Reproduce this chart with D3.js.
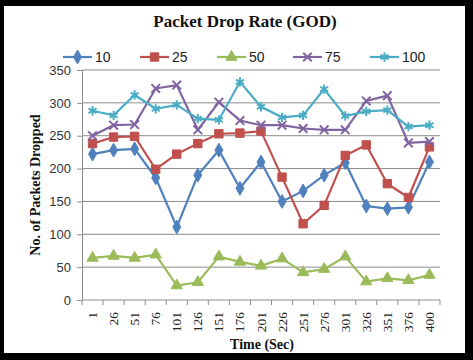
<!DOCTYPE html>
<html>
<head>
<meta charset="utf-8">
<script src="https://cdn.jsdelivr.net/npm/d3@7"></script>
<style>
  body { margin: 0; background: #000; }
  svg { display: block; }
</style>
</head>
<body>
<div id="chart"></div>
<script>
// chart data
const times = ["1", "26", "51", "76", "101", "126", "151", "176", "201", "226", "251", "276", "301", "326", "351", "376", "400"];
const seriesNames = ["10", "25", "50", "75", "100"];
const drop10 = [222, 228, 230, 186, 111, 190, 228, 170, 210, 150, 166, 190, 209, 143, 139, 141, 210];
const drop25 = [238, 248, 249, 199, 222, 238, 253, 254, 257, 187, 116, 144, 220, 236, 177, 156, 233];
const drop50 = [64, 67, 64, 69, 22, 27, 66, 58, 52, 63, 42, 47, 66, 28, 33, 30, 38];
const drop75 = [250, 266, 267, 322, 327, 259, 301, 273, 266, 266, 261, 259, 259, 303, 311, 239, 241];
const drop100 = [288, 281, 312, 291, 297, 276, 274, 332, 294, 278, 281, 321, 280, 287, 289, 264, 266];
const yTicks = [0, 50, 100, 150, 200, 250, 300, 350];

const colors = ["#4F81BD", "#C0504D", "#9BBB59", "#8064A2", "#4BACC6"];
const markers = ["diamond", "square", "triangle", "cross", "star"];
const allSeries = [drop10, drop25, drop50, drop75, drop100];

const width = 473, height = 360;
const plot = { left: 82, right: 440, top: 70, bottom: 300 };

const svg = d3.select("#chart").append("svg")
  .attr("width", width)
  .attr("height", height);

// black frame with white card
svg.append("rect").attr("width", width).attr("height", height).attr("fill", "#000");
svg.append("rect").attr("x", 4).attr("y", 6).attr("width", 461).attr("height", 347).attr("fill", "#fff");

const x = d3.scaleBand().domain(times).range([plot.left, plot.right]);
const y = d3.scaleLinear().domain([0, 350]).range([plot.bottom, plot.top]);

// gridlines
svg.append("g")
  .selectAll("line")
  .data(yTicks.filter(d => d > 0))
  .join("line")
    .attr("x1", plot.left).attr("x2", plot.right)
    .attr("y1", d => y(d)).attr("y2", d => y(d))
    .attr("stroke", "#8c8c8c").attr("stroke-width", 1);

// y axis
const yAxis = svg.append("g")
  .attr("transform", "translate(" + plot.left + ",0)")
  .call(d3.axisLeft(y).tickValues(yTicks).tickSize(5).tickPadding(6));
yAxis.select(".domain").attr("stroke", "#8c8c8c");
yAxis.selectAll(".tick line").attr("stroke", "#8c8c8c");
yAxis.selectAll("text")
  .attr("font-family", "Liberation Sans, Arial, sans-serif")
  .attr("font-size", 13)
  .attr("fill", "#333");

// x axis (ticks between categories)
const xAxis = svg.append("g")
  .attr("transform", "translate(0," + plot.bottom + ")");
xAxis.append("line")
  .attr("x1", plot.left).attr("x2", plot.right)
  .attr("stroke", "#8c8c8c");
const bounds = times.map(t => x(t)).concat([plot.right]);
xAxis.selectAll(".xtick")
  .data(bounds)
  .join("line")
    .attr("class", "xtick")
    .attr("x1", d => d).attr("x2", d => d)
    .attr("y1", 0).attr("y2", 5)
    .attr("stroke", "#8c8c8c");
xAxis.selectAll(".xlabel")
  .data(times)
  .join("text")
    .attr("class", "xlabel")
    .attr("transform", d => "translate(" + (x(d) + x.bandwidth() / 2 + 4.5) + ",12) rotate(-90)")
    .attr("text-anchor", "end")
    .attr("font-family", "Liberation Serif, Times New Roman, serif")
    .attr("font-size", 13.5)
    .attr("fill", "#222")
    .text(d => d);

// lines
const line = d3.line()
  .x((d, i) => x(times[i]) + x.bandwidth() / 2)
  .y(d => y(d));

const symbolTypes = {
  diamond: d3.symbolDiamond,
  square: d3.symbolSquare,
  triangle: d3.symbolTriangle,
  cross: d3.symbolTimes,
  star: d3.symbolAsterisk
};
const symbolSizes = { diamond: 55, square: 70, triangle: 55, cross: 50, star: 60 };

allSeries.forEach((vals, s) => {
  const g = svg.append("g");
  g.append("path")
    .datum(vals)
    .attr("fill", "none")
    .attr("stroke", colors[s])
    .attr("stroke-width", 2.2)
    .attr("d", line);
  const m = markers[s];
  const outline = m === "cross" || m === "star";
  g.selectAll("path.mark")
    .data(vals)
    .join("path")
      .attr("class", "mark")
      .attr("transform", (d, i) => "translate(" + (x(times[i]) + x.bandwidth() / 2) + "," + y(d) + ")")
      .attr("d", d3.symbol().type(symbolTypes[m]).size(symbolSizes[m]))
      .attr("fill", outline ? "none" : colors[s])
      .attr("stroke", colors[s])
      .attr("stroke-width", outline ? 2 : 1);
});

// legend
const legendX = [63, 140, 217, 293, 370];
const legend = svg.append("g").attr("transform", "translate(0,57)");
seriesNames.forEach((name, s) => {
  const lg = legend.append("g").attr("transform", "translate(" + legendX[s] + ",0)");
  lg.append("line")
    .attr("x1", 0).attr("x2", 29)
    .attr("stroke", colors[s]).attr("stroke-width", 2.2);
  const m = markers[s];
  const outline = m === "cross" || m === "star";
  lg.append("path")
    .attr("transform", "translate(14.5,0)")
    .attr("d", d3.symbol().type(symbolTypes[m]).size(symbolSizes[m]))
    .attr("fill", outline ? "none" : colors[s])
    .attr("stroke", colors[s])
    .attr("stroke-width", outline ? 2 : 1);
  lg.append("text")
    .attr("x", 32).attr("y", 5)
    .attr("font-family", "Liberation Sans, Arial, sans-serif")
    .attr("font-size", 14)
    .attr("fill", "#222")
    .text(name);
});

// titles
svg.append("text")
  .attr("x", 245).attr("y", 27)
  .attr("text-anchor", "middle")
  .attr("font-family", "Liberation Serif, Times New Roman, serif")
  .attr("font-weight", "bold")
  .attr("font-size", 17)
  .attr("fill", "#111")
  .text("Packet Drop Rate (GOD)");

svg.append("text")
  .attr("transform", "translate(40,185) rotate(-90)")
  .attr("text-anchor", "middle")
  .attr("font-family", "Liberation Serif, Times New Roman, serif")
  .attr("font-weight", "bold")
  .attr("font-size", 14)
  .attr("fill", "#111")
  .text("No. of Packets Dropped");

svg.append("text")
  .attr("x", 262).attr("y", 349)
  .attr("text-anchor", "middle")
  .attr("font-family", "Liberation Serif, Times New Roman, serif")
  .attr("font-weight", "bold")
  .attr("font-size", 14)
  .attr("fill", "#111")
  .text("Time (Sec)");
</script>
</body>
</html>
